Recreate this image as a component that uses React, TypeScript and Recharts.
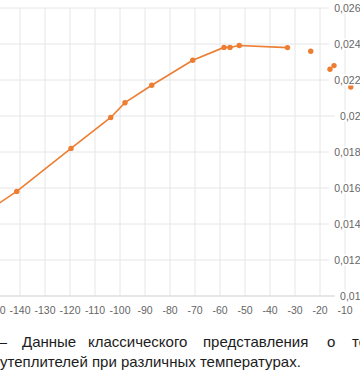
import React from 'react';
import { ScatterChart, Scatter, XAxis, YAxis, CartesianGrid } from 'recharts';

const mainTemps = [-150, -141.3, -119.6, -103.7, -98, -87.3, -70.9, -58.4, -56, -52.3, -33];
const mainValues = [0.015, 0.01581, 0.0182, 0.01992, 0.02074, 0.02171, 0.0231, 0.02381, 0.02381, 0.02392, 0.0238];
const extraTemps = [-23.7, -16, -14.4, -7.7];
const extraValues = [0.0236, 0.0226, 0.0228, 0.02161];
const xTicks = [-150, -140, -130, -120, -110, -100, -90, -80, -70, -60, -50, -40, -30, -20, -10, 0];
const yTicks = [0.01, 0.012, 0.014, 0.016, 0.018, 0.02, 0.022, 0.024, 0.026];
const captionWords1 = ['—', 'Данные', 'классического', 'представления', 'о', 'те'];
const captionLine2 = 'утеплителей при различных температурах.';

const mainData = mainTemps.map((x, i) => ({ x, y: mainValues[i] }));
const extraData = extraTemps.map((x, i) => ({ x, y: extraValues[i] }));

const ORANGE = '#ED7D31';
const FONT = '"Liberation Sans", Arial, sans-serif';

const fmtY = (v: number) => String(Number(v.toFixed(3))).replace('.', ',');

const YTick = (props: any) => {
  const { x, y, payload } = props;
  const label = fmtY(payload.value);
  const w = label.length * 5.7 + 3;
  return (
    <g>
      <rect x={x - w} y={y - 5.5} width={w + 14} height={11} fill="#fff" />
      <text x={x} y={y} dy="0.355em" textAnchor="end" fill="#666" fontSize={10.5} fontFamily={FONT}>
        {label}
      </text>
    </g>
  );
};

const Dot = (p: any) => <circle cx={p.cx} cy={p.cy} r={2.7} fill={ORANGE} />;

const wordLeft = [-8, 22, 88, 203, 327, 352];

export default function App() {
  return (
    <div style={{ position: 'fixed', left: 0, top: 0, width: 360, height: 380, overflow: 'hidden', background: '#fff' }}>
      <div style={{ position: 'absolute', left: -15, top: -2 }}>
        <ScatterChart width={395} height={328} margin={{ top: 10, right: 10, bottom: 0, left: 10 }}>
          <CartesianGrid stroke="#e6e6e6" />
          <XAxis
            type="number"
            dataKey="x"
            domain={[-150, 0]}
            ticks={xTicks}
            interval={0}
            height={30}
            allowDataOverflow
            axisLine={{ stroke: '#d9d9d9' }}
            tickLine={false}
            tickSize={0}
            tickMargin={11}
            tick={{ fill: '#666', fontSize: 10.5, fontFamily: FONT }}
          />
          <YAxis
            type="number"
            dataKey="y"
            orientation="right"
            mirror
            domain={[0.01, 0.026]}
            ticks={yTicks}
            interval={0}
            axisLine={false}
            tickLine={false}
            tickSize={0}
            tickMargin={9.5}
            tick={<YTick />}
          />
          <Scatter
            data={mainData}
            fill={ORANGE}
            line={{ stroke: ORANGE, strokeWidth: 1.6 }}
            lineType="joint"
            shape={<Dot />}
            isAnimationActive={false}
          />
          <Scatter data={extraData} fill={ORANGE} shape={<Dot />} isAnimationActive={false} />
        </ScatterChart>
      </div>
      <div style={{ position: 'absolute', left: 0, top: 333, width: 360, height: 18, fontFamily: FONT, fontSize: 15, lineHeight: '18px', color: '#1c1c1c', whiteSpace: 'nowrap' }}>
        {captionWords1.map((w, i) => (
          <span key={i} style={{ position: 'absolute', left: wordLeft[i], top: 0 }}>{w}</span>
        ))}
      </div>
      <div style={{ position: 'absolute', left: 0, top: 353, fontFamily: FONT, fontSize: 15, lineHeight: '18px', color: '#1c1c1c', whiteSpace: 'nowrap' }}>
        {captionLine2}
      </div>
    </div>
  );
}
